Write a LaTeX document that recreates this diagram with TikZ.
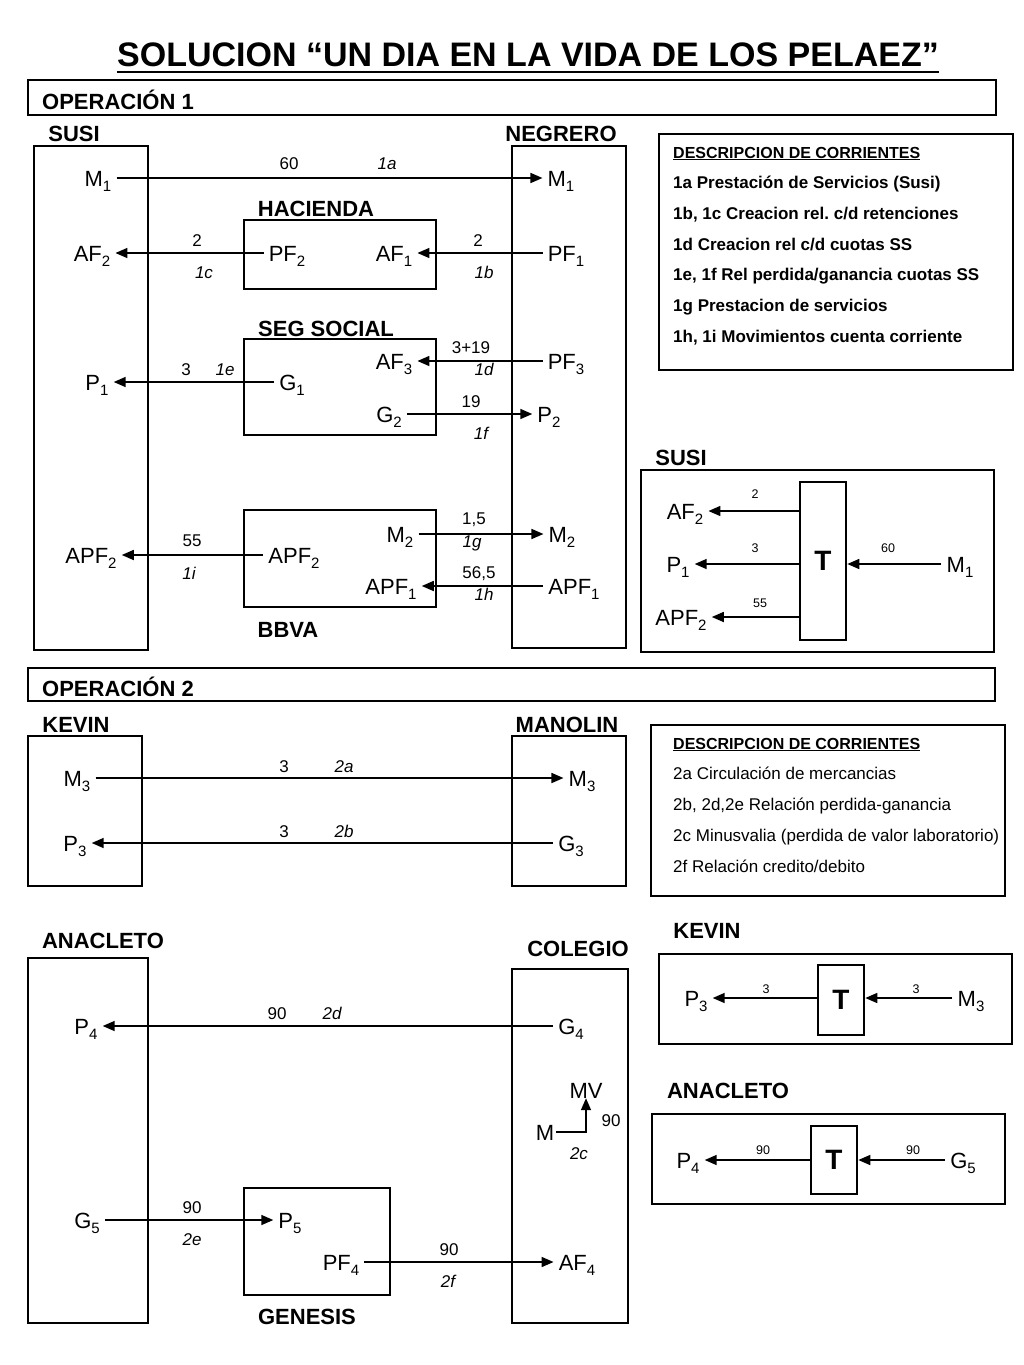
\documentclass[tikz,border=0pt]{standalone}
\usepackage{fontspec}
\setmainfont{Liberation Sans}
\usetikzlibrary{arrows.meta}

\newcommand{\ix}[1]{\raisebox{-5pt}{\fontsize{15}{15}\selectfont #1}}

\begin{document}
\begin{tikzpicture}[x=1pt, y=-1pt,
    box/.style={draw, line width=2.6pt, inner sep=0pt},
    tacc/.style={draw, line width=2.6pt, inner sep=0pt, minimum width=46pt,
      font=\fontsize{28}{30}\selectfont\bfseries},
    lbl/.style={font=\fontsize{22}{26}\selectfont, inner xsep=5pt, inner ysep=0pt,
      text height=16pt, text depth=0pt},
    hdr/.style={font=\fontsize{22}{26}\selectfont\bfseries, inner sep=0pt,
      text height=16pt, text depth=0pt},
    num/.style={font=\fontsize{17}{20}\selectfont, inner sep=0pt,
      text height=12.2pt, text depth=0pt},
    tag/.style={num, font=\fontsize{17}{20}\selectfont\itshape},
    sml/.style={font=\fontsize{12.5}{14}\selectfont, inner sep=0pt},
    dsc/.style={inner sep=0pt, anchor=base west},
    flow/.style={-{Triangle[length=12pt, width=10pt]}, line width=1.6pt}
  ]
  \useasboundingbox (0,0) rectangle (1024,1365);

  % title
  \node[font=\fontsize{34}{40}\selectfont\bfseries, inner sep=0pt,
    text height=24pt, text depth=6pt] (title) at (528,57)
    {SOLUCION “UN DIA EN LA VIDA DE LOS PELAEZ”};
  \draw[line width=2.5pt] (title.south west) -- (title.south east);

  % operacion 1
  \node[box, minimum width=968pt, minimum height=35pt] (op1) at (512,97.5) {};
  \node[hdr, anchor=west] (op1t) at (42,101) {OPERACIÓN 1};

  \node[hdr] (susiT) at (74,133) {SUSI};
  \node[hdr] (negT) at (561,133) {NEGRERO};
  \node[box, minimum width=114pt, minimum height=504pt] (susiB) at (91,398) {};
  \node[box, minimum width=114pt, minimum height=502pt] (negB) at (569,397) {};

  \node[hdr] (hacT) at (316,208) {HACIENDA};
  \node[box, minimum width=192pt, minimum height=69pt] (hacB) at (340,254.5) {};
  \node[hdr] (segT) at (326,328) {SEG SOCIAL};
  \node[box, minimum width=192pt, minimum height=96pt] (segB) at (340,387) {};
  \node[box, minimum width=192pt, minimum height=97pt] (bbvaB) at (340,558.5) {};
  \node[hdr] (bbvaT) at (288,629) {BBVA};

  \node[lbl] (m1s) at (98,178) {M\ix{1}};
  \node[lbl] (m1n) at (561,178) {M\ix{1}};
  \node[lbl] (af2s) at (92,253) {AF\ix{2}};
  \node[lbl] (pf2h) at (287,253) {PF\ix{2}};
  \node[lbl] (af1h) at (394,253) {AF\ix{1}};
  \node[lbl] (pf1n) at (566,253) {PF\ix{1}};
  \node[lbl] (af3g) at (394,361) {AF\ix{3}};
  \node[lbl] (pf3n) at (566,361) {PF\ix{3}};
  \node[lbl] (p1s) at (97,382) {P\ix{1}};
  \node[lbl] (g1g) at (292,382) {G\ix{1}};
  \node[lbl] (g2g) at (389,414) {G\ix{2}};
  \node[lbl] (p2n) at (549,414) {P\ix{2}};
  \node[lbl] (m2b) at (400,534) {M\ix{2}};
  \node[lbl] (m2n) at (562,534) {M\ix{2}};
  \node[lbl] (apf2s) at (91,555) {APF\ix{2}};
  \node[lbl] (apf2b) at (294,555) {APF\ix{2}};
  \node[lbl] (apf1b) at (391,586) {APF\ix{1}};
  \node[lbl] (apf1n) at (574,586) {APF\ix{1}};

  \draw[flow] (m1s) -- (m1n);
  \draw[flow] (pf2h) -- (af2s);
  \draw[flow] (pf1n) -- (af1h);
  \draw[flow] (pf3n) -- (af3g);
  \draw[flow] (g1g) -- (p1s);
  \draw[flow] (g2g) -- (p2n);
  \draw[flow] (m2b) -- (m2n);
  \draw[flow] (apf2b) -- (apf2s);
  \draw[flow] (apf1n) -- (apf1b);

  \node[num] (v1a) at (289,163) {60};
  \node[tag] (t1a) at (387,163) {1a};
  \node[num] (v1c) at (197,240) {2};
  \node[tag] (t1c) at (204,272) {1c};
  \node[num] (v1b) at (478,240) {2};
  \node[tag] (t1b) at (484,272) {1b};
  \node[num] (v1d) at (471,347) {3+19};
  \node[tag] (t1d) at (484,369) {1d};
  \node[num] (v1e) at (186,369) {3};
  \node[tag] (t1e) at (225,369) {1e};
  \node[num] (v1f) at (471,401) {19};
  \node[tag] (t1f) at (481,433) {1f};
  \node[num] (v1g) at (474,518) {1,5};
  \node[tag] (t1g) at (472,541) {1g};
  \node[num] (v1i) at (192,540) {55};
  \node[tag] (t1i) at (189,573) {1i};
  \node[num] (v1h) at (479,572) {56,5};
  \node[tag] (t1h) at (484,594) {1h};

  % descripcion 1
  \node[box, minimum width=354pt, minimum height=236pt] (desc1) at (836,252) {};
  \node[dsc, font=\fontsize{16}{20}\selectfont\bfseries] (d1h) at (673,158)
    {\underline{DESCRIPCION DE CORRIENTES}};
  \foreach \t [count=\i] in {{1a Prestación de Servicios (Susi)},
      {1b, 1c Creacion rel.\ c/d retenciones}, {1d Creacion rel c/d cuotas SS},
      {1e, 1f Rel perdida/ganancia cuotas SS}, {1g Prestacion de servicios},
      {1h, 1i Movimientos cuenta corriente}}
    \node[dsc, font=\fontsize{17}{20}\selectfont\bfseries] (d1-\i) at (673,{158+30.7*\i}) {\t};

  % T susi
  \node[hdr] (tsT) at (681,457) {SUSI};
  \node[box, minimum width=353pt, minimum height=182pt] (tsB) at (817.5,561) {};
  \node[tacc, minimum height=158pt] (tS) at (823,561) {T};
  \node[lbl] (af2t) at (685,511) {AF\ix{2}};
  \node[lbl] (p1t) at (678,564) {P\ix{1}};
  \node[lbl] (apf2t) at (681,617) {APF\ix{2}};
  \node[lbl] (m1t) at (960,564) {M\ix{1}};
  \draw[flow] (tS.west |- af2t) -- (af2t);
  \draw[flow] (tS.west |- p1t) -- (p1t);
  \draw[flow] (tS.west |- apf2t) -- (apf2t);
  \draw[flow] (m1t) -- (tS.east |- m1t);
  \node[sml] (ts2) at (755,494) {2};
  \node[sml] (ts3) at (755,548) {3};
  \node[sml] (ts55) at (760,603) {55};
  \node[sml] (ts60) at (888,548) {60};

  % operacion 2
  \node[box, minimum width=967pt, minimum height=33pt] (op2) at (511.5,684.5) {};
  \node[hdr, anchor=west] (op2t) at (42,688) {OPERACIÓN 2};

  \node[hdr] (kevT) at (76,724) {KEVIN};
  \node[hdr] (manT) at (567,724) {MANOLIN};
  \node[box, minimum width=114pt, minimum height=150pt] (kevB) at (85,811) {};
  \node[box, minimum width=114pt, minimum height=150pt] (manB) at (569,811) {};
  \node[lbl] (m3k) at (77,778) {M\ix{3}};
  \node[lbl] (m3m) at (582,778) {M\ix{3}};
  \node[lbl] (p3k) at (75,843) {P\ix{3}};
  \node[lbl] (g3m) at (571,843) {G\ix{3}};
  \draw[flow] (m3k) -- (m3m);
  \draw[flow] (g3m) -- (p3k);
  \node[num] (v2a) at (284,766) {3};
  \node[tag] (t2a) at (344,766) {2a};
  \node[num] (v2b) at (284,831) {3};
  \node[tag] (t2b) at (344,831) {2b};

  % descripcion 2
  \node[box, minimum width=354pt, minimum height=171pt] (desc2) at (828,810.5) {};
  \node[dsc, font=\fontsize{16}{20}\selectfont\bfseries] (d2h) at (673,749)
    {\underline{DESCRIPCION DE CORRIENTES}};
  \foreach \t [count=\i] in {{2a Circulación de mercancias},
      {2b, 2d,2e Relación perdida-ganancia},
      {2c Minusvalia (perdida de valor laboratorio)}, {2f Relación credito/debito}}
    \node[dsc, font=\fontsize{17}{20}\selectfont] (d2-\i) at (673,{749+30.8*\i}) {\t};

  % T kevin
  \node[hdr] (tkT) at (707,930) {KEVIN};
  \node[box, minimum width=353pt, minimum height=90pt] (tkB) at (835.5,999) {};
  \node[tacc, minimum height=70pt] (tK) at (841,1000) {T};
  \node[lbl] (p3t) at (696,998) {P\ix{3}};
  \node[lbl] (m3t) at (971,998) {M\ix{3}};
  \draw[flow] (tK.west |- p3t) -- (p3t);
  \draw[flow] (m3t) -- (tK.east |- m3t);
  \node[sml] (tk3a) at (766,989) {3};
  \node[sml] (tk3b) at (916,989) {3};

  % anacleto / colegio / genesis
  \node[hdr] (anaT) at (103,940) {ANACLETO};
  \node[hdr] (colT) at (578,948) {COLEGIO};
  \node[box, minimum width=120pt, minimum height=365pt] (anaB) at (88,1140.5) {};
  \node[box, minimum width=116pt, minimum height=354pt] (colB) at (570,1146) {};
  \node[box, minimum width=146pt, minimum height=107pt] (genB) at (317,1241.5) {};
  \node[hdr] (genT) at (307,1316) {GENESIS};

  \node[lbl] (p4a) at (86,1026) {P\ix{4}};
  \node[lbl] (g4c) at (571,1026) {G\ix{4}};
  \node[lbl] (mvC) at (586,1090) {MV};
  \node[lbl, inner xsep=2pt] (mC) at (545,1132) {M};
  \node[lbl] (g5a) at (87,1220) {G\ix{5}};
  \node[lbl] (p5g) at (290,1220) {P\ix{5}};
  \node[lbl] (pf4g) at (341,1262) {PF\ix{4}};
  \node[lbl] (af4c) at (577,1262) {AF\ix{4}};

  \draw[flow] (g4c) -- (p4a);
  \draw[flow] (mC) -| (mvC);
  \draw[flow] (g5a) -- (p5g);
  \draw[flow] (pf4g) -- (af4c);

  \node[num] (v2d) at (277,1013) {90};
  \node[tag] (t2d) at (332,1013) {2d};
  \node[num] (v2c) at (611,1120) {90};
  \node[tag] (t2c) at (579,1153) {2c};
  \node[num] (v2e) at (192,1207) {90};
  \node[tag] (t2e) at (192,1239) {2e};
  \node[num] (v2f) at (449,1249) {90};
  \node[tag] (t2f) at (448,1281) {2f};

  % T anacleto
  \node[hdr] (taT) at (728,1090) {ANACLETO};
  \node[box, minimum width=353pt, minimum height=90pt] (taB) at (828.5,1159) {};
  \node[tacc, minimum height=68pt] (tA) at (834,1160) {T};
  \node[lbl] (p4t) at (688,1160) {P\ix{4}};
  \node[lbl] (g5t) at (963,1160) {G\ix{5}};
  \draw[flow] (tA.west |- p4t) -- (p4t);
  \draw[flow] (g5t) -- (tA.east |- g5t);
  \node[sml] (ta90a) at (763,1150) {90};
  \node[sml] (ta90b) at (913,1150) {90};
\end{tikzpicture}
\end{document}
